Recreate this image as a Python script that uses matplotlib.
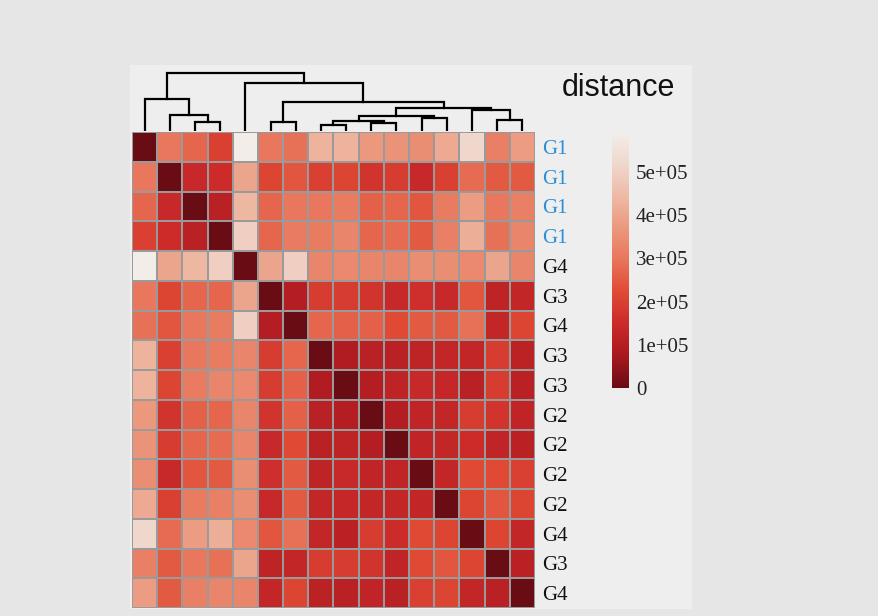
import numpy as np
import matplotlib.pyplot as plt
from matplotlib.colors import LinearSegmentedColormap
from matplotlib.patches import Rectangle

# sample labels (rows and columns share the same order)
labels = ['G1', 'G1', 'G1', 'G1', 'G4', 'G3', 'G4', 'G3',
          'G3', 'G2', 'G2', 'G2', 'G2', 'G4', 'G3', 'G4']
label_colors = ['#2a8fd8' if l == 'G1' else '#111111' for l in labels]

# distance matrix, units of 1e5
dist = [
    [0.0, 3.0, 2.7, 2.0, 5.9, 3.0, 2.9, 4.3, 4.3, 3.7, 3.6, 3.5, 4.1, 5.2, 3.2, 3.8],
    [3.0, 0.0, 1.4, 1.5, 4.0, 2.1, 2.4, 2.0, 2.1, 1.7, 1.9, 1.4, 2.0, 2.8, 2.5, 2.5],
    [2.7, 1.4, 0.0, 1.1, 4.4, 2.7, 3.0, 3.0, 3.1, 2.6, 2.7, 2.4, 3.1, 3.8, 3.0, 3.2],
    [2.0, 1.5, 1.1, 0.0, 5.0, 2.7, 3.1, 3.1, 3.3, 2.7, 2.8, 2.5, 3.2, 4.2, 2.9, 3.3],
    [5.9, 4.0, 4.4, 5.0, 0.0, 4.0, 5.0, 3.3, 3.4, 3.3, 3.3, 3.5, 3.5, 3.4, 4.0, 3.3],
    [3.0, 2.1, 2.7, 2.7, 4.0, 0.0, 1.0, 1.9, 1.9, 1.7, 1.4, 1.6, 1.4, 2.4, 1.2, 1.3],
    [2.9, 2.4, 3.0, 3.1, 5.0, 1.0, 0.0, 2.7, 2.6, 2.6, 2.2, 2.5, 2.5, 2.9, 1.3, 2.1],
    [4.3, 2.0, 3.0, 3.1, 3.3, 1.9, 2.7, 0.0, 0.9, 1.1, 1.1, 1.2, 1.3, 1.3, 1.9, 1.15],
    [4.3, 2.1, 3.1, 3.3, 3.4, 1.9, 2.6, 0.9, 0.0, 1.0, 1.2, 1.4, 1.35, 1.1, 1.9, 1.1],
    [3.7, 1.7, 2.6, 2.7, 3.3, 1.7, 2.6, 1.1, 1.0, 0.0, 1.0, 1.25, 1.3, 1.9, 1.7, 1.25],
    [3.6, 1.9, 2.7, 2.8, 3.3, 1.4, 2.2, 1.1, 1.2, 1.0, 0.0, 1.25, 1.3, 1.5, 1.25, 1.1],
    [3.5, 1.4, 2.4, 2.5, 3.5, 1.6, 2.5, 1.2, 1.4, 1.25, 1.25, 0.0, 1.3, 2.2, 2.2, 2.0],
    [4.1, 2.0, 3.1, 3.2, 3.5, 1.4, 2.5, 1.3, 1.35, 1.3, 1.3, 1.3, 0.0, 2.1, 2.4, 2.1],
    [5.2, 2.8, 3.8, 4.2, 3.4, 2.4, 2.9, 1.3, 1.1, 1.9, 1.5, 2.2, 2.1, 0.0, 2.1, 1.3],
    [3.2, 2.5, 3.0, 2.9, 4.0, 1.2, 1.3, 1.9, 1.9, 1.7, 1.25, 2.2, 2.4, 2.1, 0.0, 1.1],
    [3.8, 2.5, 3.2, 3.3, 3.3, 1.3, 2.1, 1.15, 1.1, 1.25, 1.1, 2.0, 2.1, 1.3, 1.1, 0.0],
]

# column dendrogram merges: (child a, child b, height); new clusters numbered from 16
merges = [
    (2, 3, 9.0), (1, 16, 16.0), (0, 17, 31.7),
    (5, 6, 9.3), (7, 8, 6.0), (9, 10, 7.7), (20, 21, 10.0),
    (11, 12, 12.7), (22, 23, 15.0), (14, 15, 11.0), (13, 25, 21.0),
    (24, 26, 23.3), (19, 27, 29.3), (4, 28, 48.3), (18, 29, 58.3),
]

cbar_ticks = [0, 1e5, 2e5, 3e5, 4e5, 5e5]
cbar_ticklabels = ['0', '1e+05', '2e+05', '3e+05', '4e+05', '5e+05']
vmax = 5.9e5

W, H = 879, 616
def px(l, t, r, b):
    return [l / W, 1 - b / H, (r - l) / W, (b - t) / H]

cmap = LinearSegmentedColormap.from_list('reds', [
    '#6a0c14', '#a8181e', '#cb2a2a', '#e04a34', '#e8745a',
    '#eb977c', '#eeb8a4', '#f0d6ca', '#f2ede9'])

fig = plt.figure(figsize=(W / 100, H / 100), dpi=100, facecolor='#e6e6e6')
fig.patches.append(Rectangle((130 / W, 1 - 609 / H), 562 / W, 544 / H,
                             transform=fig.transFigure, facecolor='#eeeeee',
                             edgecolor='none', zorder=-5))

# heatmap
D = np.array(dist) * 1e5
ax = fig.add_axes(px(132, 132, 535, 608))
mesh = ax.pcolormesh(D, cmap=cmap, vmin=0, vmax=vmax,
                     edgecolors='#9a9a9a', linewidth=1.4)
ax.set_xlim(0, 16)
ax.set_ylim(16, 0)
ax.set_xticks([])
ax.yaxis.tick_right()
ax.set_yticks(np.arange(16) + 0.5)
ax.set_yticklabels(labels, fontsize=15, family='Liberation Serif')
for t, c in zip(ax.get_yticklabels(), label_colors):
    t.set_color(c)
ax.tick_params(axis='y', length=0, pad=5)
for s in ax.spines.values():
    s.set_visible(False)

# dendrogram on top
dax = fig.add_axes(px(132, 65, 535, 131))
xpos = {i: i + 0.5 for i in range(16)}
hgt = {i: 0.0 for i in range(16)}
for k, (a, b, h) in enumerate(merges):
    xa, xb = xpos[a], xpos[b]
    dax.plot([xa, xa, xb, xb], [hgt[a], h, h, hgt[b]], color='black', lw=1.6,
             solid_joinstyle='miter')
    xpos[16 + k] = (xa + xb) / 2
    hgt[16 + k] = h
dax.set_xlim(0, 16)
dax.set_ylim(0, 66)
dax.axis('off')

fig.text(562 / W, 1 - 96 / H, 'distance', fontsize=22,
         family='Liberation Sans', va='baseline', color='#111111')

# colour bar
cax = fig.add_axes(px(612, 133, 629, 388))
cb = fig.colorbar(mesh, cax=cax, ticks=cbar_ticks)
cb.set_ticklabels(cbar_ticklabels)
cb.outline.set_visible(False)
cax.tick_params(length=0, pad=5, labelsize=15)
for t in cax.get_yticklabels():
    t.set_family('Liberation Serif')
    t.set_color('#222222')

fig.savefig('out.png', dpi=100, facecolor=fig.get_facecolor())
